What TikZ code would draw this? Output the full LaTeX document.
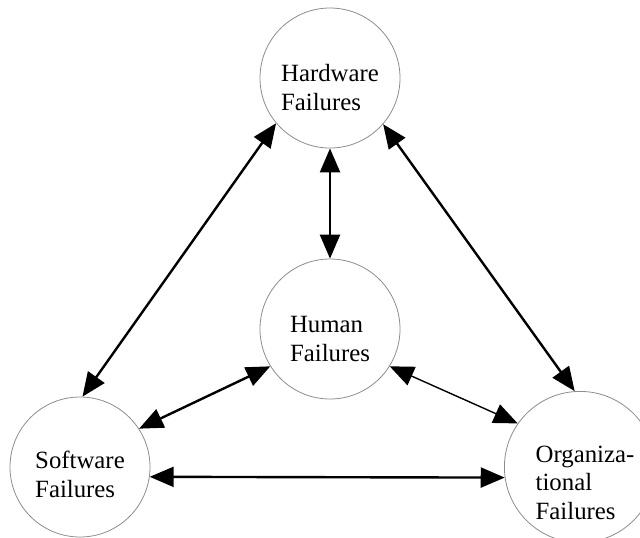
\documentclass[tikz,border=0pt]{standalone}
\usepackage{fontspec}
\setmainfont{Liberation Serif}
\usetikzlibrary{arrows.meta}
\newcommand{\dropby}[1]{\rule{0pt}{#1}}
\begin{document}
\begin{tikzpicture}[x=0.5pt,y=-0.5pt,
    failure/.style={draw=black!45,line width=0.4pt,circle,minimum size=70pt,inner sep=0pt,
      align=left,font=\fontsize{12.4}{14.2}\selectfont},
    link/.style={line width=1.2pt,{Triangle[length=12pt,width=10pt]}-{Triangle[length=12pt,width=10pt]}}]
        \useasboundingbox (0,0) rectangle (640,537);
        %% Circles
        \node[failure] (hw) at (330,78) {\dropby{18pt}Hardware\\Failures};
        \node[failure] (hu) at (330,329) {\dropby{18pt}Human\\Failures};
        \node[failure] (sw) at (80,467) {\dropby{16pt}Software\\Failures};
        \node[failure] (org) at (580,467) {\dropby{24pt}\hspace*{5pt}Organiza-\\\hspace*{5pt}tional\\\hspace*{5pt}Failures};
        %% Arrows
        \draw[link] (hw.south) -- (hu.north);
        \draw[link] (hw.220) -- (sw.88);
        \draw[link] (hw.319) -- (org.94);
        \draw[link] (sw.33) -- (hu.212);
        \draw[link,line width=0.7pt] (hu.328) -- (org.145);
        \draw[link] (sw.-8) -- (org.188);
    \end{tikzpicture}
\end{document}
